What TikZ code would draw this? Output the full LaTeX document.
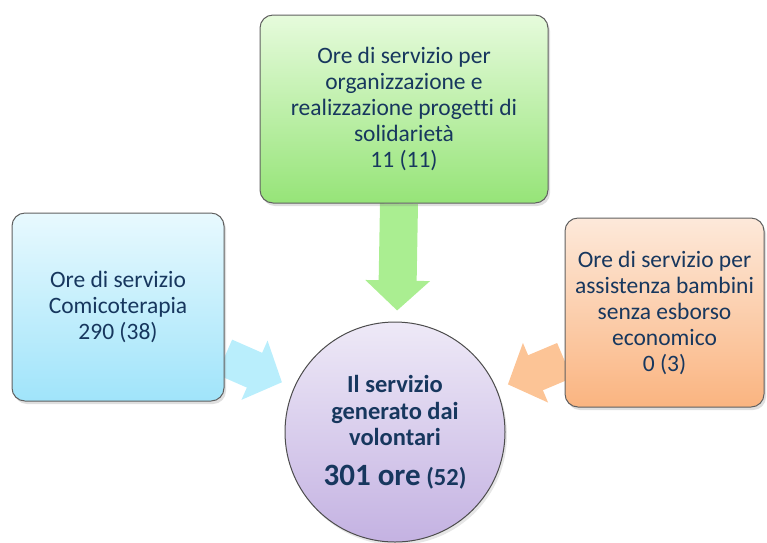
\documentclass[tikz,border=0pt]{standalone}
\usepackage{fontspec}
\setmainfont{Carlito}[Ligatures=NoCommon]
\usetikzlibrary{arrows.meta,backgrounds,shadows}
\definecolor{navy}{RGB}{23,55,94}
\definecolor{greentop}{RGB}{230,251,220}
\definecolor{greenbot}{RGB}{150,228,120}
\definecolor{bluetop}{RGB}{232,249,254}
\definecolor{bluebot}{RGB}{160,228,250}
\definecolor{orangetop}{RGB}{253,233,218}
\definecolor{orangebot}{RGB}{250,180,128}
\definecolor{violettop}{RGB}{238,233,247}
\definecolor{violetbot}{RGB}{196,178,226}
\definecolor{greenflow}{RGB}{170,238,145}
\definecolor{blueflow}{RGB}{185,238,252}
\definecolor{orangeflow}{RGB}{252,196,150}

\begin{document}
\begin{tikzpicture}[x=1pt,y=-1pt,
    box/.style={draw=gray!75!black, line width=1pt, rounded corners=13pt,
      align=center, text=navy, font=\fontsize{23.5}{26}\selectfont,
      drop shadow={shadow xshift=2pt, shadow yshift=-3pt, opacity=0.25}},
    flow/.style={line width=38pt, -{Triangle[width=63pt,length=30pt]}}]
  \useasboundingbox (0,0) rectangle (767,542);
  % the three sources
  \node (projects) at (404,109) [box, minimum width=288pt, minimum height=188pt,
    top color=greentop, bottom color=greenbot]
    {Ore di servizio per\\organizzazione e\\realizzazione progetti di\\solidarietà\\11 (11)};
  \node (comic) at (118,307) [box, minimum width=212pt, minimum height=188pt,
    top color=bluetop, bottom color=bluebot]
    {Ore di servizio\\Comicoterapia\\290 (38)};
  \node (care) at (664.5,312.5) [box, minimum width=199pt, minimum height=189pt,
    top color=orangetop, bottom color=orangebot]
    {Ore di servizio per\\assistenza bambini\\senza esborso\\economico\\0 (3)};
  % the total
  \node (total) at (395,432) [circle, minimum size=220pt, inner sep=0pt,
    draw=gray!60!black, line width=1pt, top color=violettop, bottom color=violetbot,
    align=center, text=navy, font=\bfseries\fontsize{24.5}{26.5}\selectfont,
    drop shadow={shadow xshift=2pt, shadow yshift=-3pt, opacity=0.2}]
    {Il servizio\\generato dai\\volontari\\[13pt]{\fontsize{31}{32}\selectfont 301 ore} (52)};
  \begin{scope}[on background layer]
    \draw [flow, draw=greenflow, shorten >=11pt] ([xshift=-5pt]projects.south) -- (total);
    \draw [flow, draw=blueflow, shorten >=13pt] ([yshift=-50pt]comic.east) -- (total);
    \draw [flow, draw=orangeflow, shorten >=12pt] ([yshift=-48pt]care.west) -- (total);
  \end{scope}
\end{tikzpicture}
\end{document}
